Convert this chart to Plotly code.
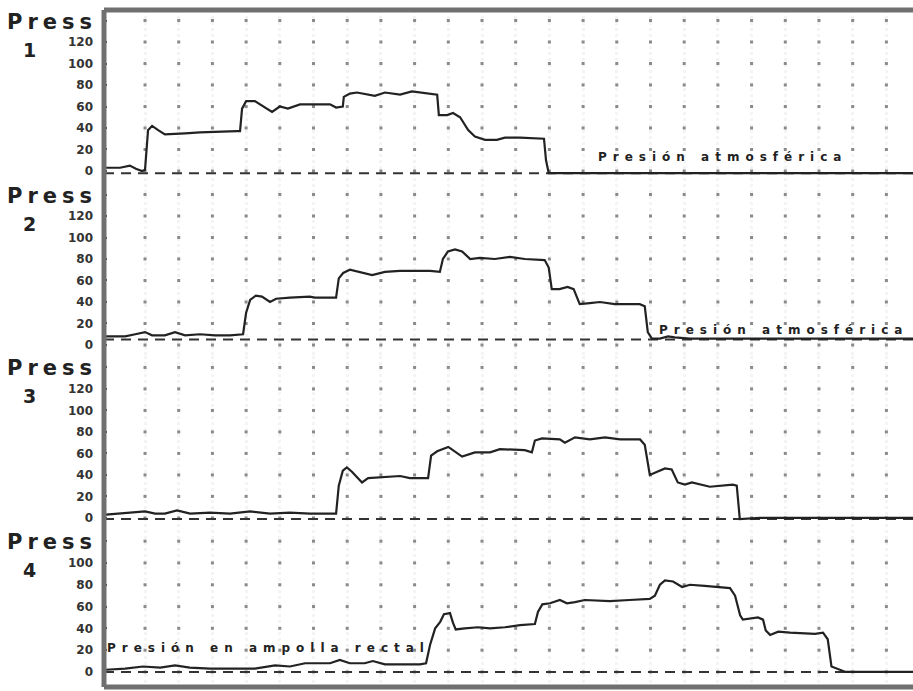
import plotly.graph_objects as go
from plotly.subplots import make_subplots

# time in grid units (one dotted column per unit), pressure in mmHg
t1 = [-0.16, 0.26, 0.55, 0.73, 0.91, 1.0, 1.09, 1.21, 1.39, 1.59, 2.19, 2.63, 3.73, 3.82, 3.88,
      4.0, 4.26, 4.56, 4.77, 5.0, 5.24, 5.6, 6.49, 6.67, 6.87, 6.9, 7.08, 7.29, 7.82, 8.12,
      8.57, 8.92, 9.4, 9.67, 9.72, 9.97, 10.14, 10.35, 10.59, 10.79, 11.09, 11.44, 11.68,
      12.13, 12.84, 12.9, 12.98, 23.8]
p1 = [3, 3, 5, 2, 0, 1, 38, 42, 38, 34, 35, 36, 37, 37, 58,
      65, 65, 59, 55, 60, 58, 62, 62, 59, 60, 69, 72, 73, 70, 73,
      71, 74, 72, 71, 52, 52, 54, 50, 38, 32, 29, 29, 31,
      31, 30, 10, -2, -2]

t2 = [-0.16, 0.41, 0.71, 1.0, 1.21, 1.59, 1.89, 2.19, 2.63, 3.08, 3.52, 3.91, 4.0, 4.12,
      4.29, 4.47, 4.71, 4.89, 5.3, 5.89, 6.04, 6.67, 6.75, 6.88, 7.08, 7.38, 7.74, 8.12,
      8.57, 9.46, 9.75, 9.84, 9.99, 10.2, 10.41, 10.65, 10.94, 11.38, 11.83, 12.27, 12.86,
      12.98, 13.07, 13.3, 13.54, 13.72, 13.9, 14.2, 14.5, 14.94, 15.68, 15.83, 15.92,
      16.04, 16.28, 16.52, 16.72, 17.17, 23.8]
p2 = [8, 8, 10, 12, 9, 9, 12, 9, 10, 9, 9, 10, 30, 42,
      46, 45, 40, 43, 44, 45, 44, 44, 62, 67, 70, 68, 65, 68,
      69, 69, 68, 80, 87, 89, 87, 80, 81, 80, 82, 80, 79,
      72, 52, 52, 54, 52, 38, 39, 40, 38, 38, 36, 12,
      6, 6, 8, 7, 6, 6]

t3 = [-0.16, 0.26, 0.71, 1.0, 1.3, 1.59, 1.95, 2.34, 2.93, 3.52, 4.12, 4.71, 5.3, 5.89,
      6.67, 6.75, 6.87, 6.99, 7.14, 7.44, 7.62, 8.12, 8.57, 8.86, 9.4, 9.49, 9.67, 10.0,
      10.2, 10.41, 10.79, 11.24, 11.53, 12.27, 12.48, 12.57, 12.78, 13.31, 13.46, 13.76,
      14.2, 14.65, 15.1, 15.69, 15.83, 15.98, 16.13, 16.43, 16.63, 16.81, 17.02, 17.23,
      17.76, 18.44, 18.56, 18.65, 19.25, 23.8]
p3 = [3, 4, 5, 6, 4, 4, 7, 4, 5, 4, 6, 4, 5, 4,
      4, 30, 44, 47, 43, 33, 37, 38, 39, 37, 37, 58, 62, 66,
      62, 57, 61, 61, 64, 63, 61, 72, 74, 73, 70, 75,
      73, 75, 73, 73, 68, 40, 42, 46, 45, 33, 31, 33,
      29, 31, 30, -1, 0, 0]

t4 = [-0.16, 0.41, 0.94, 1.45, 1.89, 2.33, 2.93, 4.26, 4.86, 5.3, 5.75, 6.49, 6.78, 7.08,
      7.52, 7.76, 8.12, 9.16, 9.34, 9.46, 9.61, 9.76, 9.87, 10.05, 10.14, 10.22, 10.49,
      10.88, 11.24, 11.68, 12.13, 12.57, 12.66, 12.79, 13.02, 13.31, 13.52, 13.76, 14.05,
      14.79, 15.38, 15.98, 16.13, 16.28, 16.43, 16.67, 16.94, 17.17, 17.61, 18.06, 18.36,
      18.51, 18.66, 18.74, 19.19, 19.34, 19.42, 19.55, 19.79, 20.14, 20.88, 21.12, 21.26,
      21.37, 21.64, 21.79, 23.8]
p4 = [2, 3, 5, 4, 6, 4, 3, 3, 6, 5, 8, 8, 11, 8,
      8, 10, 7, 7, 8, 25, 40, 46, 53, 54, 45, 39, 40,
      41, 40, 41, 43, 44, 55, 62, 63, 66, 63, 64, 66,
      65, 66, 67, 70, 80, 84, 83, 78, 80, 79, 78, 77,
      70, 52, 48, 50, 48, 38, 34, 37, 36, 35, 36, 30,
      5, 2, 0, 0]

channels = ["1", "2", "3", "4"]
grid_cols = list(range(1, 24))
levels_full = [0, 20, 40, 60, 80, 100, 120, 140]
levels_short = [0, 20, 40, 60, 80, 100, 120]
zero_lines = [-2, 5, -1, 0]
note_atm = "Presión atmosférica"
note_rect = "Presión en ampolla rectal"

series = [(t1, p1), (t2, p2), (t3, p3), (t4, p4)]
grid_levels = [levels_full, levels_full, levels_full, levels_short]

# layout (pixels of the 913x691 page)
W, H = 913, 691
ML, MR, MT, MB = 104, 0, 10, 4
domains = [[0.743, 1.0], [0.489, 0.743], [0.232, 0.489], [0.0, 0.232]]
yranges = [[-12.1, 149.8], [-10.2, 149.8], [-11.2, 150.7], [-13.8, 130.3]]
xrange_ = [-0.217, 23.79]
INK = "#222222"
DOT = "#8a8a8a"

fig = make_subplots(rows=4, cols=1, shared_xaxes=True, vertical_spacing=0)

for i, ((t, p), lv) in enumerate(zip(series, grid_levels)):
    row = i + 1
    gx = [c for _ in lv for c in grid_cols]
    gy = [v for v in lv for _ in grid_cols]
    fig.add_trace(go.Scatter(x=gx, y=gy, mode="markers", hoverinfo="skip",
                             marker=dict(size=3, color=DOT, symbol="square")),
                  row=row, col=1)
    fig.add_trace(go.Scatter(x=[xrange_[0], xrange_[1]], y=[zero_lines[i]] * 2, mode="lines",
                             line=dict(color="#333333", width=2, dash="10px,7px")),
                  row=row, col=1)
    fig.add_trace(go.Scatter(x=t, y=p, mode="lines",
                             line=dict(color=INK, width=2.2)),
                  row=row, col=1)
    ticktext = [str(v) for v in lv[:-1]] + [""]
    fig.update_yaxes(range=yranges[i], domain=domains[i], tickvals=lv, ticktext=ticktext,
                     ticks="inside", ticklen=3, tickwidth=2, tickcolor="#444",
                     ticklabelstandoff=10, showgrid=False, zeroline=False,
                     showline=False, fixedrange=True, automargin=False,
                     tickfont=dict(family="DejaVu Sans", size=12, color="#333", weight="bold"),
                     row=row, col=1)
    fig.update_xaxes(range=xrange_, tickvals=grid_cols, showticklabels=False, ticks="",
                     showgrid=True, gridcolor="#f4f4f4", gridwidth=3, griddash="dot",
                     zeroline=False, showline=False, automargin=False, row=row, col=1)
    yref = "y domain" if row == 1 else f"y{row} domain"
    fig.add_annotation(text='<span style="letter-spacing:5px">Press</span>',
                       xref="paper", yref=yref, x=-0.064, y=1, yshift=-12,
                       xanchor="center", yanchor="middle", showarrow=False,
                       font=dict(family="DejaVu Sans", size=21, color=INK, weight="bold"))
    fig.add_annotation(text=channels[i], xref="paper", yref=yref, x=-0.092, y=1,
                       yshift=-40, xanchor="center", yanchor="middle", showarrow=False,
                       font=dict(family="DejaVu Sans", size=19, color=INK, weight="bold"))

# notes on the traces
notes = [(note_atm, 1, 18.15, 13), (note_atm, 2, 19.95, 14), (note_rect, 4, 4.65, 22)]
for txt, row, xv, yv in notes:
    fig.add_annotation(text=f'<span style="letter-spacing:6px">{txt}</span>',
                       x=xv, y=yv, xref=f"x{row}" if row > 1 else "x",
                       yref=f"y{row}" if row > 1 else "y",
                       showarrow=False, xanchor="center", yanchor="middle",
                       font=dict(family="DejaVu Sans", size=12, color=INK, weight="bold"))

# frame (left, top, bottom)
frame = dict(color="#707070", width=5)
fig.add_shape(type="line", xref="paper", yref="paper", x0=0, x1=0, y0=0, y1=1, line=frame)
fig.add_shape(type="line", xref="paper", yref="paper", x0=0, x1=1, y0=1, y1=1, line=frame)
fig.add_shape(type="line", xref="paper", yref="paper", x0=0, x1=1, y0=0, y1=0, line=frame)

fig.update_layout(width=W, height=H, showlegend=False,
                  margin=dict(l=ML, r=MR, t=MT, b=MB),
                  paper_bgcolor="white", plot_bgcolor="white")

# drop the browser's default body margin so the figure sits at the page corner
fig.write_html("out.html", config={"displayModeBar": False},
               post_script="document.body.style.margin='0';")
